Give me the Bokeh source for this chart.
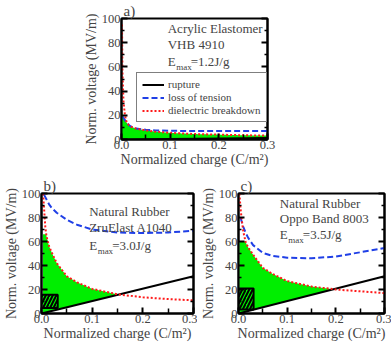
import numpy as np
from bokeh.plotting import figure
from bokeh.layouts import column, row
from bokeh.models import (Range1d, FixedTicker, PrintfTickFormatter, LinearAxis,
                          Legend, LegendItem, Label, Spacer)
from bokeh.embed import file_html
from bokeh.resources import INLINE

# ---------------- data ----------------
# panel a) Acrylic Elastomer VHB 4910
xa_red = [0.001, 0.002, 0.004, 0.007, 0.01, 0.015, 0.02, 0.03, 0.05, 0.07, 0.1, 0.15, 0.2, 0.25, 0.3]
ya_red = [95, 55, 32, 20, 15, 12, 10.5, 9, 7.5, 6.5, 5.5, 4.5, 4.0, 3.5, 3.2]
xa_blue = [0.002, 0.004, 0.007, 0.01, 0.015, 0.02, 0.03, 0.05, 0.07, 0.1, 0.15, 0.2, 0.25, 0.3]
ya_blue = [19, 18, 16, 14, 12, 10.5, 9, 8, 7.5, 7.2, 7, 7, 7, 7]
xa_black = [0.0, 0.3]
ya_black = [0.0, 1.2]
cap_a = 22

# panel b) Natural Rubber ZruElast A1040
xb_red = [0.003, 0.005, 0.0075, 0.01, 0.015, 0.02, 0.03, 0.05, 0.07, 0.1, 0.15, 0.2, 0.25, 0.3]
yb_red = [100, 88, 72, 64, 56, 51, 42, 31, 26, 20.5, 16, 13.5, 12, 11]
xb_blue = [0.005, 0.0075, 0.01, 0.015, 0.02, 0.03, 0.05, 0.07, 0.1, 0.15, 0.2, 0.25, 0.3]
yb_blue = [99, 97, 95, 91, 88, 84, 78, 74, 70, 67.5, 67, 67.5, 69]
xb_black = [0.0, 0.3]
yb_black = [0.0, 31]
cap_b = 66
box_b = (0.0, 0.032, 4.5, 15.7)

# panel c) Natural Rubber Oppo Band 8003
xc_red = [0.002, 0.004, 0.007, 0.01, 0.015, 0.02, 0.03, 0.05, 0.07, 0.1, 0.15, 0.2, 0.25, 0.3]
yc_red = [100, 88, 77, 68, 59, 55, 49, 38, 33, 27, 22.5, 20, 18.5, 17]
xc_blue = [0.004, 0.007, 0.01, 0.015, 0.02, 0.03, 0.05, 0.07, 0.1, 0.15, 0.2, 0.25, 0.3]
yc_blue = [80, 76, 72, 67, 63, 57, 50.5, 48, 46.5, 46, 47.5, 51, 54.5]
xc_black = [0.0, 0.3]
yc_black = [0.0, 31]
cap_c = 60
box_c = (0.0, 0.031, 3.3, 20.8)

x_ticks = [0.0, 0.1, 0.2, 0.3]
x_minor = [0.05, 0.15, 0.25]
y_ticks = [0, 20, 40, 60, 80, 100]
y_minor = [10, 30, 50, 70, 90]

FONT = "Liberation Serif"
GREEN = "#00ee00"
BLUE = "#1f3fe6"
RED = "#ff1a1a"


def make_panel(tag, w, h, bl, br, bt, bb, xr, yr, xbl, ybl, xbk, ybk, cap,
               lines, txt_x, txt_y, emax, box=None):
    p = figure(width=w, height=h, output_backend="svg", toolbar_location=None,
               x_range=Range1d(0, 0.3), y_range=Range1d(0, 100),
               min_border_left=bl, min_border_right=br, min_border_top=bt,
               min_border_bottom=bb, title=tag)
    p.title.text_font = FONT
    p.title.text_font_size = "15px"
    p.title.text_font_style = "normal"
    p.title.align = "left"
    p.title.offset = 2
    p.title.standoff = 0
    p.grid.visible = False
    p.outline_line_color = "black"
    p.outline_line_width = 2
    p.background_fill_color = "white"
    p.border_fill_color = "white"

    # green region: between the rupture line and the lowest other limit
    xf = np.linspace(min(xr[0], xbl[0]), 0.3, 600)
    top = np.minimum(np.interp(xf, xr, yr, left=np.inf), np.interp(xf, xbl, ybl, left=np.inf))
    top = np.minimum(top, cap)
    bot = np.interp(xf, xbk, ybk)
    top = np.maximum(top, bot)
    p.varea(x=xf, y1=bot, y2=top, fill_color=GREEN)

    if box is not None:
        p.quad(left=box[0], right=box[1], bottom=box[2], top=box[3],
               fill_color=None, line_color="black", line_width=2,
               hatch_pattern="/", hatch_color="black", hatch_weight=2, hatch_scale=7)

    r_black = p.line(xbk, ybk, line_color="black", line_width=2)
    r_blue = p.line(xbl, ybl, line_color=BLUE, line_width=2, line_dash="6 3")
    r_red = p.line(xr, yr, line_color=RED, line_width=2, line_dash="2 2")

    for ax in p.xaxis:
        ax.ticker = FixedTicker(ticks=x_ticks, minor_ticks=x_minor)
        ax.formatter = PrintfTickFormatter(format="%.1f")
        ax.axis_label = "Normalized charge (C/m\u00b2)"
    for ax in p.yaxis:
        ax.ticker = FixedTicker(ticks=y_ticks, minor_ticks=y_minor)
        ax.axis_label = "Norm. voltage (MV/m)"
    for ax in list(p.xaxis) + list(p.yaxis):
        ax.major_label_text_font = FONT
        ax.major_label_text_font_size = "12.5px"
        ax.major_label_standoff = 1
        ax.axis_label_text_font = FONT
        ax.axis_label_text_font_size = "14px"
        ax.axis_label_text_font_style = "normal"
        ax.axis_label_standoff = 0
    right = LinearAxis(ticker=FixedTicker(ticks=y_ticks, minor_ticks=y_minor),
                       major_label_text_color=None, major_label_standoff=0,
                       major_label_text_font_size="1px")
    p.add_layout(right, "right")
    for ax in list(p.xaxis) + list(p.yaxis):
        ax.axis_line_width = 2
        ax.axis_line_color = "black"
        ax.major_tick_in = 6
        ax.major_tick_out = 0
        ax.minor_tick_in = 3
        ax.minor_tick_out = 0
        ax.major_tick_line_width = 2
        ax.minor_tick_line_width = 1.5
    for ax in p.xaxis:
        ax.minor_tick_in = 5

    for i, t in enumerate(lines):
        p.add_layout(Label(x=txt_x, y=txt_y[i], text=t, text_font=FONT,
                           text_font_size="13px", text_baseline="middle"))
    p.add_layout(Label(x=txt_x, y=txt_y[2], text="E", text_font=FONT,
                       text_font_size="13px", text_baseline="middle"))
    p.add_layout(Label(x=txt_x, y=txt_y[2] - 4.5, text="max", text_font=FONT,
                       text_font_size="9px", text_baseline="middle", x_offset=8.5))
    p.add_layout(Label(x=txt_x, y=txt_y[2], text=emax, text_font=FONT,
                       text_font_size="13px", text_baseline="middle", x_offset=23))
    return p, r_black, r_blue, r_red


pa, ka, ba, ra = make_panel("a)", 199, 171, 39, 12, 18, 32,
                            xa_red, ya_red, xa_blue, ya_blue, xa_black, ya_black, cap_a,
                            ["Acrylic Elastomer", "VHB 4910"], 0.095, [92, 78.5, 64.5],
                            "=1.2J/g")
legend = Legend(items=[LegendItem(label="rupture", renderers=[ka]),
                       LegendItem(label="loss of tension", renderers=[ba]),
                       LegendItem(label="dielectric breakdown", renderers=[ra])],
                location=(15, 17), label_text_font=FONT, label_text_font_size="11px",
                label_height=11, glyph_height=11, glyph_width=22, spacing=1,
                padding=5, margin=0, label_standoff=4,
                border_line_color="black", border_line_width=1,
                background_fill_alpha=1)
pa.add_layout(legend, "center")

pb, _, _, _ = make_panel("b)", 197, 176, 37, 4, 22, 34,
                         xb_red, yb_red, xb_blue, yb_blue, xb_black, yb_black, cap_b,
                         ["Natural Rubber", "ZruElast A1040"], 0.094, [85, 71.5, 57],
                         "=3.0J/g", box_b)
pc, _, _, _ = make_panel("c)", 194, 176, 37, 7, 22, 34,
                         xc_red, yc_red, xc_blue, yc_blue, xc_black, yc_black, cap_c,
                         ["Natural Rubber", "Oppo Band 8003"], 0.085, [92, 79, 66],
                         "=3.5J/g", box_c)

layout = column(row(Spacer(width=80, height=171), pa), row(pb, pc))
open("out.html", "w").write(file_html(layout, INLINE))
